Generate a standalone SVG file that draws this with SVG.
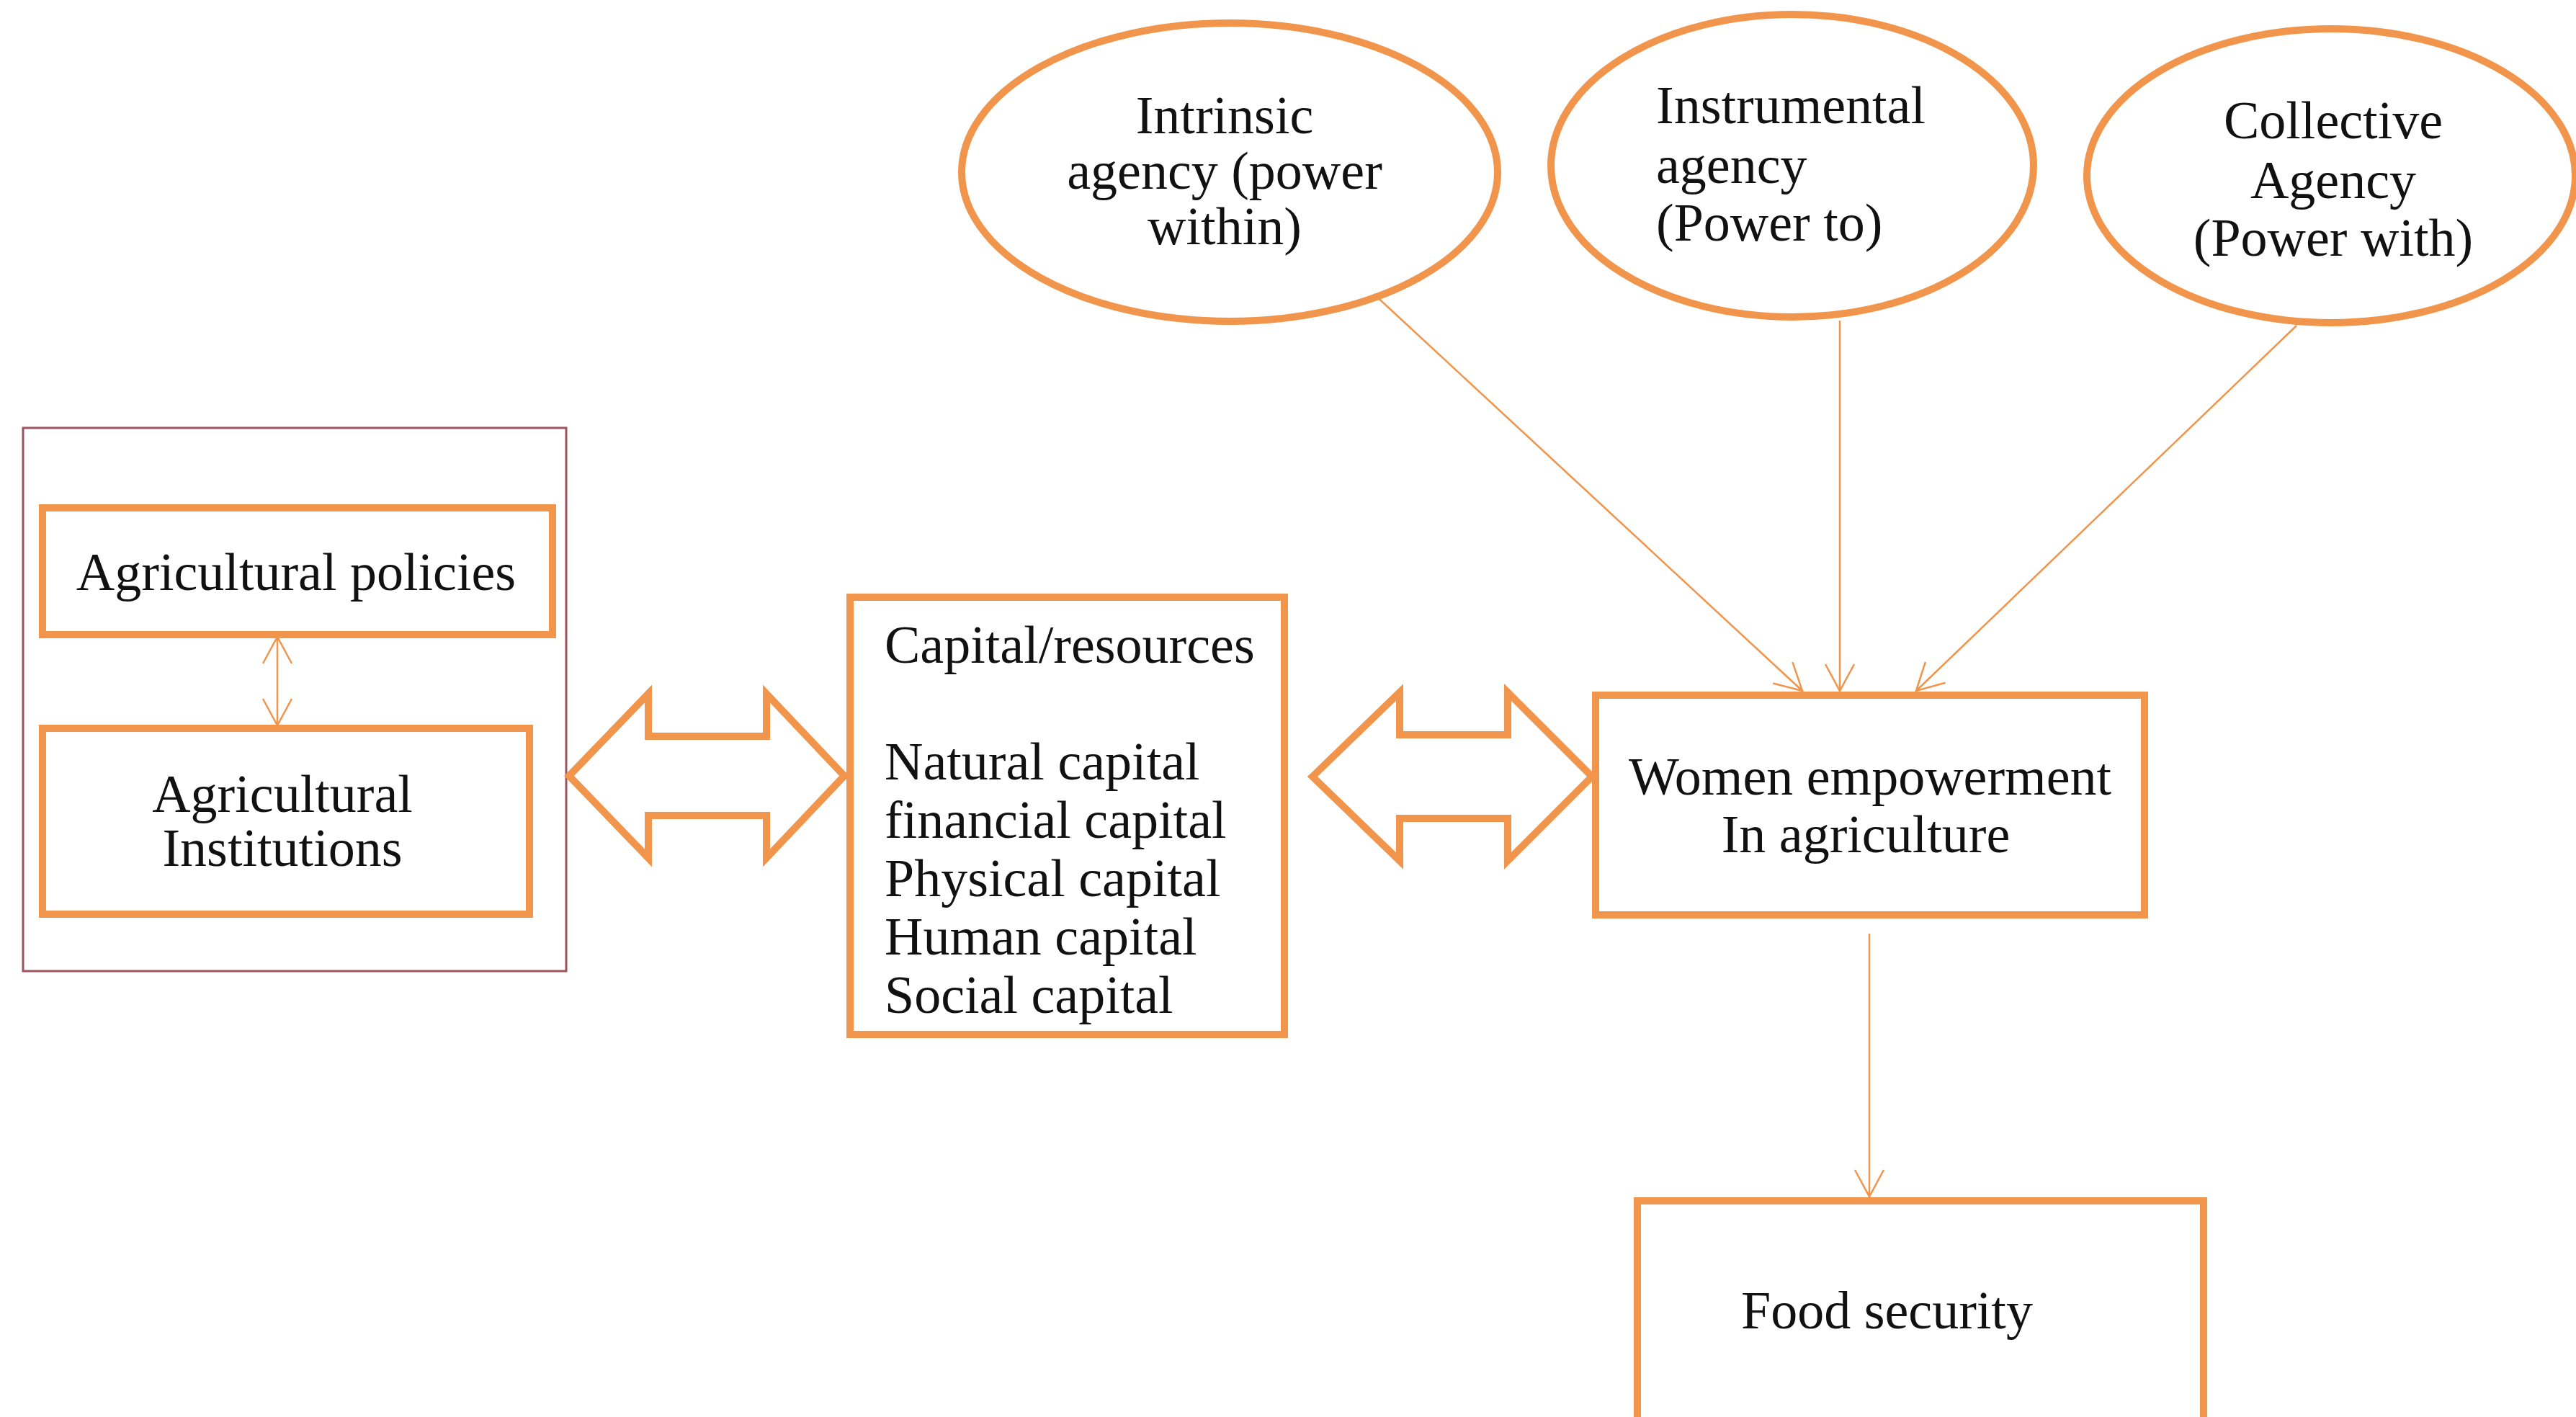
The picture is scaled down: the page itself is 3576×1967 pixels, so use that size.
<svg xmlns="http://www.w3.org/2000/svg" width="3576" height="1967" viewBox="0 0 3576 1967">
<defs>
<style>
.box{fill:#fff;stroke:#F0954B;stroke-width:10}
.blk{fill:#fff;stroke:#F0954B;stroke-width:10;stroke-linejoin:miter}
.con{fill:none;stroke:#F0954B;stroke-width:2.5}
.t{font-family:"Liberation Serif","Times New Roman",serif;font-size:74px;fill:#111}
.c{text-anchor:middle}
</style>
<marker id="ah" markerUnits="userSpaceOnUse" markerWidth="44" markerHeight="48" refX="40" refY="22" orient="auto-start-reverse" viewBox="0 0 44 48">
<path d="M3,2 L40,22 L3,42" fill="none" stroke="#F0954B" stroke-width="2.5"/>
</marker>
</defs>
<rect width="3576" height="1967" fill="#fff"/>

<g id="group-frame">
<rect x="32" y="594" width="754" height="754" fill="none" stroke="#A0525F" stroke-width="3"/>
</g>

<g id="node-policies">
<rect class="box" x="59" y="705" width="708" height="176"/>
<text class="t c" x="411" y="819">Agricultural policies</text>
</g>

<g id="node-institutions">
<rect class="box" x="59" y="1011" width="676" height="258"/>
<text class="t c" x="392" y="1127">Agricultural</text>
<text class="t c" x="392" y="1202">Institutions</text>
</g>

<g id="node-capital">
<rect class="box" x="1180" y="829" width="603" height="607"/>
<text class="t" x="1228" y="920">Capital/resources</text>
<text class="t" x="1228" y="1082">Natural capital</text>
<text class="t" x="1228" y="1163">financial capital</text>
<text class="t" x="1228" y="1244">Physical capital</text>
<text class="t" x="1228" y="1325">Human capital</text>
<text class="t" x="1228" y="1406">Social capital</text>
</g>

<g id="node-women">
<rect class="box" x="2215" y="965" width="762" height="305"/>
<text class="t c" x="2596" y="1103">Women empowerment</text>
<text class="t c" x="2590" y="1183">In agriculture</text>
</g>

<g id="node-food">
<rect class="box" x="2273" y="1667" width="786" height="330"/>
<text class="t" x="2417" y="1844">Food security</text>
</g>

<g id="node-intrinsic">
<ellipse class="box" cx="1707" cy="239" rx="372" ry="207"/>
<text class="t c" x="1700" y="185">Intrinsic</text>
<text class="t c" x="1700" y="262">agency (power</text>
<text class="t c" x="1700" y="339">within)</text>
</g>

<g id="node-instrumental">
<ellipse class="box" cx="2488" cy="230" rx="335" ry="210"/>
<text class="t" x="2299" y="171">Instrumental</text>
<text class="t" x="2299" y="254">agency</text>
<text class="t" x="2299" y="334">(Power to)</text>
</g>

<g id="node-collective">
<ellipse class="box" cx="3236" cy="244" rx="339" ry="204"/>
<text class="t c" x="3239" y="192">Collective</text>
<text class="t c" x="3239" y="275">Agency</text>
<text class="t c" x="3239" y="355">(Power with)</text>
</g>

<g id="connectors">
<line class="con" x1="385" y1="884" x2="385" y2="1007" marker-start="url(#ah)" marker-end="url(#ah)"/>
<polygon class="blk" points="790,1077 900,963 900,1022 1064,1022 1064,963 1172,1077 1064,1191 1064,1132 900,1132 900,1191"/>
<polygon class="blk" points="1822,1078 1943,961 1943,1020 2093,1020 2093,961 2210,1078 2093,1195 2093,1136 1943,1136 1943,1195"/>
<line class="con" x1="1907" y1="408" x2="2502" y2="959" marker-end="url(#ah)"/>
<line class="con" x1="2554" y1="445" x2="2554" y2="959" marker-end="url(#ah)"/>
<line class="con" x1="3188" y1="452" x2="2660" y2="959" marker-end="url(#ah)"/>
<line class="con" x1="2595" y1="1296" x2="2595" y2="1661" marker-end="url(#ah)"/>
</g>
</svg>
